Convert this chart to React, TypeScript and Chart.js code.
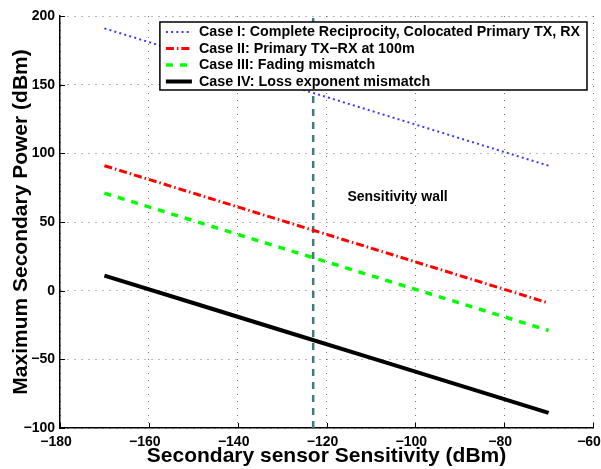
import React, { useEffect, useRef } from 'react';
import { Chart, registerables } from 'chart.js';

Chart.register(...registerables);

// ---- data ----
const sensitivity = [-170, -150, -130, -110, -90, -70];
const caseI = [191, 171, 151, 131, 111, 91];
const caseII = [91, 71, 51, 31, 11, -9];
const caseIII = [71, 51, 31, 11, -9, -29];
const caseIV = [11, -9, -29, -49, -69, -89];
const wallX = [-123, -123];
const wallY = [-100, 200];
const seriesNames = [
  'Case I: Complete Reciprocity, Colocated Primary TX, RX',
  'Case II: Primary TX\u2212RX at 100m',
  'Case III: Fading mismatch',
  'Case IV: Loss exponent mismatch',
];
const annotationText = 'Sensitivity wall';
const annotationAt = [-104, 68];
const xRange = [-180, -60];
const yRange = [-100, 200];
const xStep = 20;
const yStep = 50;
const xTitle = 'Secondary sensor Sensitivity (dBm)';
const yTitle = 'Maximum Secondary Power (dBm)';

const FAMILY = '"Liberation Sans", Arial, Helvetica, sans-serif';

const toPts = (xs: number[], ys: number[]) => xs.map((x, i) => ({ x, y: ys[i] }));
const fmt = (v: number) => (v < 0 ? '\u2212' + Math.abs(v) : String(v));

export default function App() {
  const ref = useRef<HTMLCanvasElement | null>(null);
  useEffect(() => {
    document.body.style.margin = '0';
    const canvas = ref.current!;

    const innerTicks = {
      id: 'innerTicks',
      beforeDatasetsDraw(chart: any) {
        const { ctx, chartArea, scales } = chart;
        ctx.save();
        ctx.strokeStyle = '#000';
        ctx.lineWidth = 1;
        ctx.beginPath();
        scales.x.ticks.forEach((t: any) => {
          const px = Math.round(scales.x.getPixelForValue(t.value)) + 0.5;
          ctx.moveTo(px, chartArea.bottom);
          ctx.lineTo(px, chartArea.bottom - 5);
        });
        scales.y.ticks.forEach((t: any) => {
          const py = Math.round(scales.y.getPixelForValue(t.value)) + 0.5;
          ctx.moveTo(chartArea.left, py);
          ctx.lineTo(chartArea.left + 5, py);
        });
        ctx.stroke();
        ctx.restore();
      },
    };

    const overlay = {
      id: 'overlay',
      afterDatasetsDraw(chart: any) {
        const { ctx, chartArea, scales } = chart;
        ctx.save();
        // annotation
        ctx.font = `bold 14px ${FAMILY}`;
        ctx.fillStyle = '#000';
        ctx.textAlign = 'center';
        ctx.textBaseline = 'middle';
        ctx.fillText(
          annotationText,
          scales.x.getPixelForValue(annotationAt[0]),
          scales.y.getPixelForValue(annotationAt[1])
        );
        // legend
        ctx.font = `bold 14.3px ${FAMILY}`;
        const tw = Math.max(...seriesNames.map((s) => ctx.measureText(s).width));
        const padL = 6, sym = 26, gap = 7, padR = 7;
        const w = padL + sym + gap + tw + padR;
        const rowH = 16.5;
        const h = rowH * seriesNames.length + 2;
        const right = chartArea.right - 6;
        const top = chartArea.top + 6;
        const left = right - w;
        ctx.fillStyle = '#fff';
        ctx.fillRect(left, top, w, h);
        ctx.strokeStyle = '#000';
        ctx.lineWidth = 1.5;
        ctx.strokeRect(left, top, w, h);
        seriesNames.forEach((name, i) => {
          const ds = chart.data.datasets[i];
          const cy = top + 10 + i * rowH;
          ctx.save();
          ctx.strokeStyle = ds.borderColor;
          ctx.lineWidth = ds.borderWidth;
          ctx.setLineDash(ds.borderDash || []);
          ctx.beginPath();
          ctx.moveTo(left + padL, cy);
          ctx.lineTo(left + padL + sym, cy);
          ctx.stroke();
          ctx.restore();
          ctx.fillStyle = '#000';
          ctx.textAlign = 'left';
          ctx.textBaseline = 'middle';
          ctx.fillText(name, left + padL + sym + gap, cy + 0.5);
        });
        ctx.restore();
      },
    };

    const tickFont = { family: FAMILY, size: 14, weight: 'bold' as const };
    const titleFont = { family: FAMILY, size: 21, weight: 'bold' as const };

    const chart = new Chart(canvas, {
      type: 'line',
      data: {
        datasets: [
          {
            label: seriesNames[0],
            data: toPts(sensitivity, caseI),
            borderColor: '#3a3aff',
            borderWidth: 2,
            borderDash: [2, 3.2],
          },
          {
            label: seriesNames[1],
            data: toPts(sensitivity, caseII),
            borderColor: '#ff0000',
            borderWidth: 3,
            borderDash: [8, 3, 1.5, 3],
          },
          {
            label: seriesNames[2],
            data: toPts(sensitivity, caseIII),
            borderColor: '#00ff00',
            borderWidth: 3.5,
            borderDash: [7, 7],
          },
          {
            label: seriesNames[3],
            data: toPts(sensitivity, caseIV),
            borderColor: '#000000',
            borderWidth: 4,
          },
          {
            label: 'wall',
            data: toPts(wallX, wallY),
            borderColor: '#3d7c7c',
            borderWidth: 2.5,
            borderDash: [7, 6],
          },
        ] as any,
      },
      options: {
        animation: false,
        responsive: false,
        events: [],
        elements: { point: { radius: 0 }, line: { tension: 0 } },
        layout: { padding: { top: 16, right: 8, left: 0, bottom: 0 } },
        plugins: { legend: { display: false }, tooltip: { enabled: false } },
        scales: {
          x: {
            type: 'linear',
            min: xRange[0],
            max: xRange[1],
            ticks: {
              stepSize: xStep,
              font: tickFont,
              color: '#000',
              padding: 6,
              maxRotation: 0,
              labelOffset: -4,
              callback: (v: any) => fmt(Number(v)),
            },
            grid: { color: 'rgba(0,0,0,0.55)', lineWidth: 1, drawTicks: false },
            border: { display: true, color: '#000', width: 1.5, dash: [1, 6] },
            title: { display: true, text: xTitle, font: titleFont, color: '#000', padding: { top: 0, bottom: 0 } },
            afterFit: (s: any) => {
              s.height = 41;
              s.paddingLeft = 0;
              s.paddingRight = 0;
            },
          },
          y: {
            type: 'linear',
            min: yRange[0],
            max: yRange[1],
            ticks: {
              stepSize: yStep,
              font: tickFont,
              color: '#000',
              padding: 5,
              callback: (v: any) => fmt(Number(v)),
            },
            grid: { color: 'rgba(0,0,0,0.55)', lineWidth: 1, drawTicks: false },
            border: { display: true, color: '#000', width: 1.5, dash: [1, 6] },
            title: { display: true, text: yTitle, font: titleFont, color: '#000', padding: { top: 9, bottom: 0 } },
            afterFit: (s: any) => {
              s.width = 60;
              s.paddingTop = 0;
              s.paddingBottom = 0;
            },
          },
        },
      } as any,
      plugins: [innerTicks, overlay],
    });
    return () => chart.destroy();
  }, []);

  return <canvas ref={ref} width={601} height={469} style={{ display: 'block' }} />;
}
